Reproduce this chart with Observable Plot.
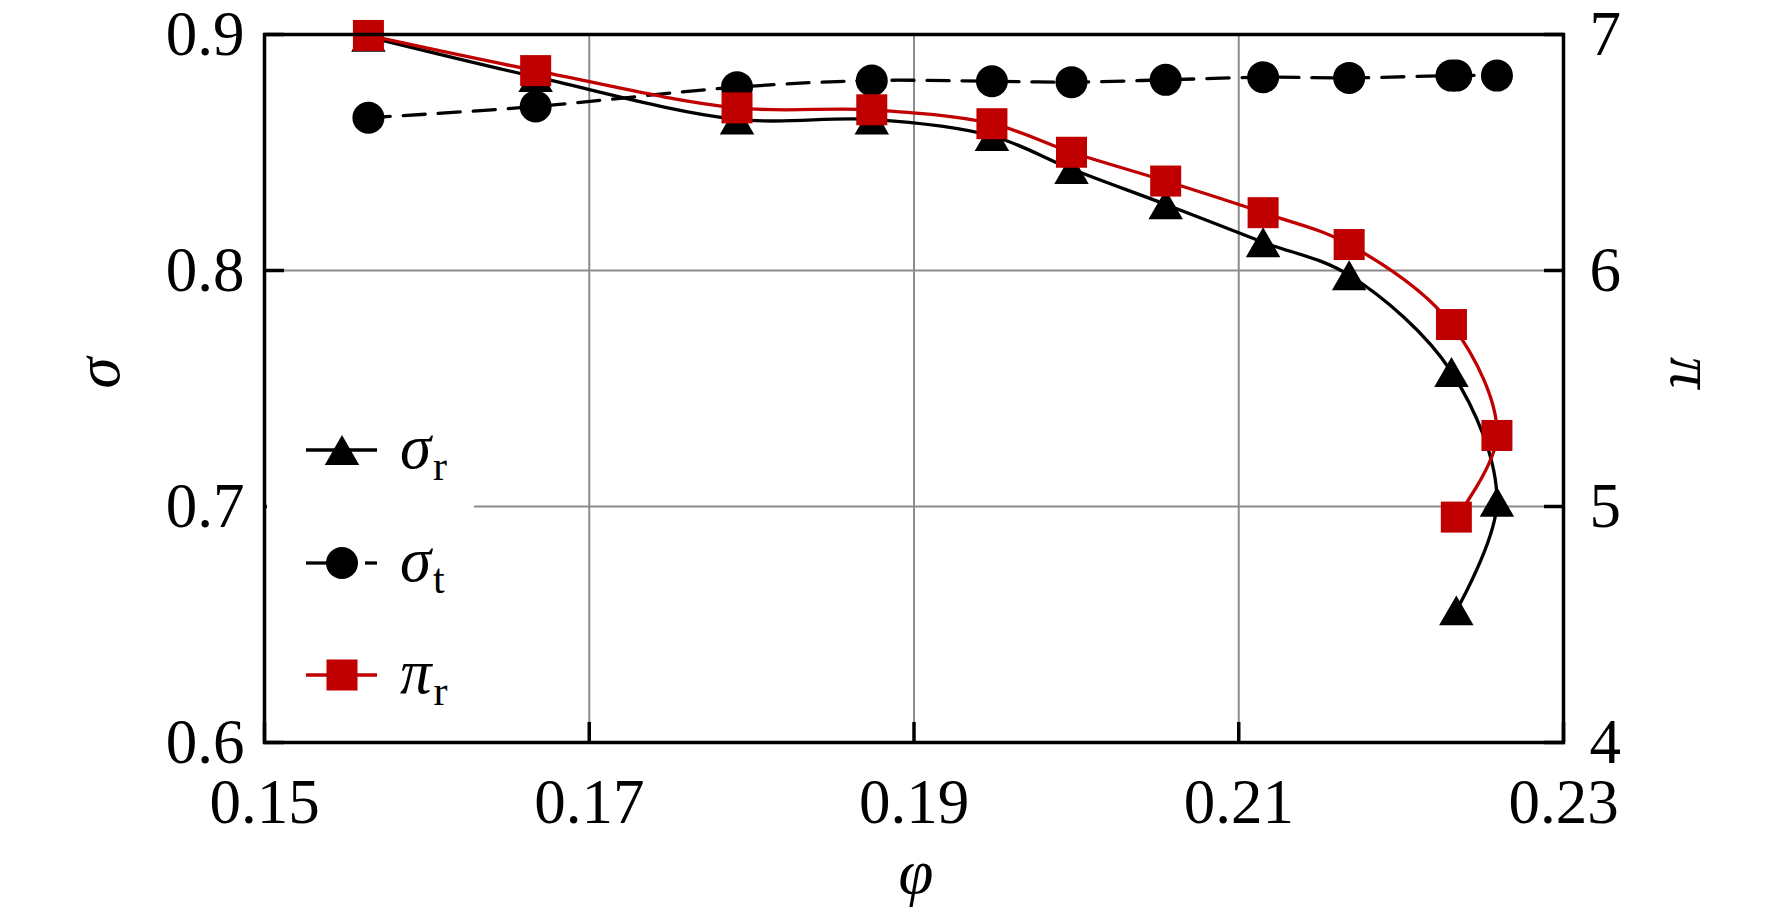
<!DOCTYPE html>
<html><head><meta charset="utf-8">
<script src="https://cdn.jsdelivr.net/npm/d3@7"></script>
<script src="https://cdn.jsdelivr.net/npm/@observablehq/plot@0.6"></script>
<style>
html,body{margin:0;padding:0;background:#fff;}
#wrap{position:relative;width:1772px;height:924px;overflow:hidden;}
#legend{position:absolute;left:0;top:0;}
</style></head><body><div id="wrap"></div>
<script>
// data
const phi    = [0.1564, 0.1667, 0.1791, 0.1874, 0.1948, 0.1997, 0.2055, 0.2115, 0.2168, 0.2231, 0.2259, 0.2234];
const sigmaR = [0.899, 0.882, 0.864, 0.864, 0.857, 0.843, 0.828, 0.812, 0.798, 0.757, 0.702, 0.656];
const sigmaT = [0.8647, 0.8695, 0.8777, 0.8805, 0.8802, 0.8798, 0.8808, 0.8819, 0.8816, 0.8826, 0.8826, 0.8826];
const piR    = [6.996, 6.847, 6.689, 6.681, 6.622, 6.501, 6.379, 6.245, 6.110, 5.771, 5.301, 4.955];
const xTicks = [0.15, 0.17, 0.19, 0.21, 0.23];
const yTicks = [0.6, 0.7, 0.8, 0.9];
const piTicks = [4, 5, 6, 7];
const xGrid = [0.17, 0.19, 0.21];
const yGrid = [0.7, 0.8];
const legendItems = [
  {name: "σ", sub: "r", symbol: "triangle", color: "#000", dash: null},
  {name: "σ", sub: "t", symbol: "circle", color: "#000", dash: "22,13"},
  {name: "π", sub: "r", symbol: "square", color: "#C00000", dash: null}
];

const RED = "#C00000";
const FONT = "'Liberation Serif', 'Times New Roman', serif";
const toSigma = p => 0.6 + (p - 4) * 0.1;
const rows = phi.map((p, i) => ({phi: p, sr: sigmaR[i], st: sigmaT[i], pr: toSigma(piR[i])}));

const chart = Plot.plot({
  width: 1772, height: 924,
  marginLeft: 264, marginRight: 209, marginTop: 34, marginBottom: 182,
  style: {fontFamily: FONT, fontSize: "63px", background: "#fff", color: "#000"},
  x: {domain: [0.15, 0.23]},
  y: {domain: [0.6, 0.9]},
  marks: [
    Plot.gridX(xGrid, {stroke: "#8c8c8c", strokeOpacity: 1, strokeWidth: 2}),
    Plot.gridY(yGrid, {stroke: "#8c8c8c", strokeOpacity: 1, strokeWidth: 2}),
    Plot.axisX(xTicks, {tickSize: -20, tickPadding: 56, strokeWidth: 3.5, tickFormat: d => d.toFixed(2), label: null}),
    Plot.axisY(yTicks, {anchor: "left", tickSize: -20, tickPadding: 40, strokeWidth: 3.5, tickFormat: d => d.toFixed(1), label: null}),
    Plot.axisY(piTicks.map(toSigma), {anchor: "right", tickSize: -20, tickPadding: 46, strokeWidth: 3.5, tickFormat: d => String(Math.round((d - 0.6) * 10 + 4)), label: null}),
    // sigma_t
    Plot.line(rows, {x: "phi", y: "st", stroke: "#000", strokeWidth: 3.3, strokeDasharray: "22,13", curve: "catmull-rom"}),
    Plot.dot(rows, {x: "phi", y: "st", symbol: "circle", fill: "#000", stroke: "none", r: 16}),
    // sigma_r
    Plot.line(rows, {x: "phi", y: "sr", stroke: "#000", strokeWidth: 3.3, curve: "catmull-rom"}),
    Plot.dot(rows, {x: "phi", y: "sr", symbol: "triangle", fill: "#000", stroke: "none", r: 12.8, dy: 5}),
    // pi_r
    Plot.line(rows, {x: "phi", y: "pr", stroke: RED, strokeWidth: 3.3, curve: "catmull-rom"}),
    Plot.dot(rows, {x: "phi", y: "pr", symbol: "square", fill: RED, stroke: "none", r: 17.5}),
    Plot.frame({stroke: "#000", strokeWidth: 3.5}),
    // axis titles
    Plot.text(["σ"], {text: d => d, frameAnchor: "left", dx: -166, rotate: -90, fontStyle: "italic", fontSize: 63}),
    Plot.text(["π"], {text: d => d, frameAnchor: "right", dx: 128, rotate: 90, fontStyle: "italic", fontSize: 63}),
    Plot.text(["φ"], {text: d => d, frameAnchor: "bottom", dx: 2, dy: 150, fontStyle: "italic", fontSize: 63})
  ]
});
document.getElementById("wrap").appendChild(chart);

// legend overlay (inside plot, with white background)
const lg = d3.create("svg").attr("id", "legend").attr("width", 1772).attr("height", 924)
  .attr("font-family", FONT);
lg.append("rect").attr("x", 267).attr("y", 420).attr("width", 207).attr("height", 300).attr("fill", "#fff");
const rowY = [450, 563, 675];
legendItems.forEach((it, i) => {
  const y = rowY[i];
  const g = lg.append("g");
  if (it.dash) {
    g.append("line").attr("x1", 306).attr("x2", 330).attr("y1", y).attr("y2", y).attr("stroke", it.color).attr("stroke-width", 3.3);
    g.append("line").attr("x1", 365).attr("x2", 377).attr("y1", y).attr("y2", y).attr("stroke", it.color).attr("stroke-width", 3.3);
  } else {
    g.append("line").attr("x1", 306).attr("x2", 377).attr("y1", y).attr("y2", y).attr("stroke", it.color).attr("stroke-width", 3.3);
  }
  const sym = it.symbol === "triangle" ? d3.symbolTriangle : it.symbol === "square" ? d3.symbolSquare : d3.symbolCircle;
  const size = it.symbol === "triangle" ? 12.8 * 12.8 * Math.PI : it.symbol === "square" ? 17.5 * 17.5 * Math.PI : 16 * 16 * Math.PI;
  g.append("path").attr("d", d3.symbol(sym, size)()).attr("transform", `translate(342,${it.symbol === "triangle" ? y + 5 : y})`).attr("fill", it.color);
  const t = g.append("text").attr("x", 400).attr("y", y + 18).attr("font-size", 63).attr("fill", "#000");
  t.append("tspan").attr("font-style", "italic").text(it.name);
  t.append("tspan").attr("font-size", 42).attr("dy", 12).attr("dx", 2).text(it.sub);
});
document.getElementById("wrap").appendChild(lg.node());
</script>
</body></html>
